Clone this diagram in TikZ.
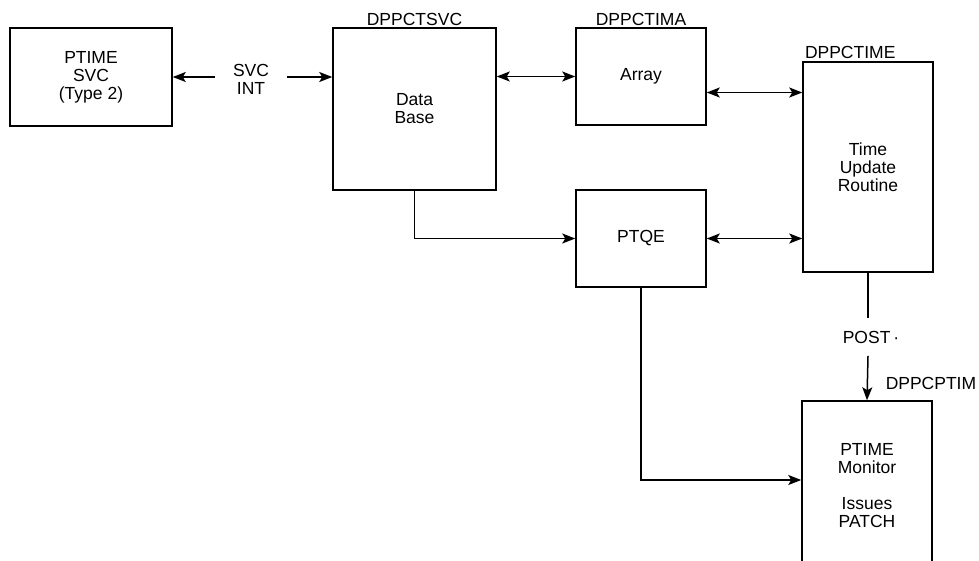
\documentclass[tikz,border=0pt]{standalone}
\usepackage{fontspec}
\setmainfont{Liberation Sans}
\usetikzlibrary{arrows.meta,positioning,calc}

\begin{document}
\begin{tikzpicture}[x=1pt,y=-1pt,line width=1.5pt,
    font=\fontsize{17.5}{18}\selectfont,
    blk/.style={draw,rectangle,align=center,inner sep=0pt,anchor=center},
    modname/.style={inner sep=1pt,anchor=south},
    arr/.style={-{Stealth[length=13pt,width=10pt,inset=3pt]}},
    dbl/.style={{Stealth[length=13pt,width=10pt,inset=3pt]}-{Stealth[length=13pt,width=10pt,inset=3pt]}}]
  \useasboundingbox (0,0) rectangle (979,560);
  \clip (0,0) rectangle (979,560);
  % blocks
  \node[blk,minimum width=162pt,minimum height=98pt] (ptsvc) at (91,77)
    {PTIME\\SVC\\(Type 2)};
  \node[blk,minimum width=163pt,minimum height=162pt] (dbase) at (414.5,109)
    {Data\\Base};
  \node[blk,minimum width=130pt,minimum height=97pt] (array) at (641,76.5)
    {Array};
  \node[blk,minimum width=130pt,minimum height=210pt] (tur) at (868,167)
    {Time\\Update\\Routine};
  \node[blk,minimum width=130pt,minimum height=97pt] (ptqe) at (641,238.5)
    {PTQE};
  \node[blk,minimum width=130pt,minimum height=170pt] (mon) at (867,486)
    {PTIME\\Monitor\\[18pt]Issues\\PATCH};
  % module names
  \node[modname] at (dbase.north) {DPPCTSVC};
  \node[modname] at (array.north) {DPPCTIMA};
  \node[modname,anchor=south west] at ([xshift=1pt,yshift=1pt]tur.north west) {DPPCTIME};
  \node[modname,anchor=south west] at ([xshift=17pt,yshift=9pt]mon.north) {DPPCPTIM};
  % connectors
  \node[align=center,inner xsep=17pt,inner ysep=0pt] (svcint) at (251,79) {SVC\\INT};
  \draw[arr] ([yshift=2pt]svcint.west) -- (ptsvc.east);
  \draw[arr] ([yshift=2pt]svcint.east) -- (dbase.west |- ptsvc.east);
  \draw[dbl] (array.west -| dbase.east) -- (array.west);
  \draw[dbl] ([yshift=-16pt]array.east) -- ([yshift=-16pt]array.east -| tur.west);
  \draw[arr] (dbase.south) |- (ptqe.west);
  \draw[dbl] (ptqe.east) -- (ptqe.east -| tur.west);
  \draw[arr] (ptqe.south) |- ([yshift=6pt]mon.west);
  \node[inner xsep=0pt,inner ysep=12pt] (post) at (871,337) {POST\,·};
  \draw (tur.south) -- (tur.south |- post.north);
  \draw[arr] (tur.south |- post.south) -- (mon.north);
\end{tikzpicture}
\end{document}
